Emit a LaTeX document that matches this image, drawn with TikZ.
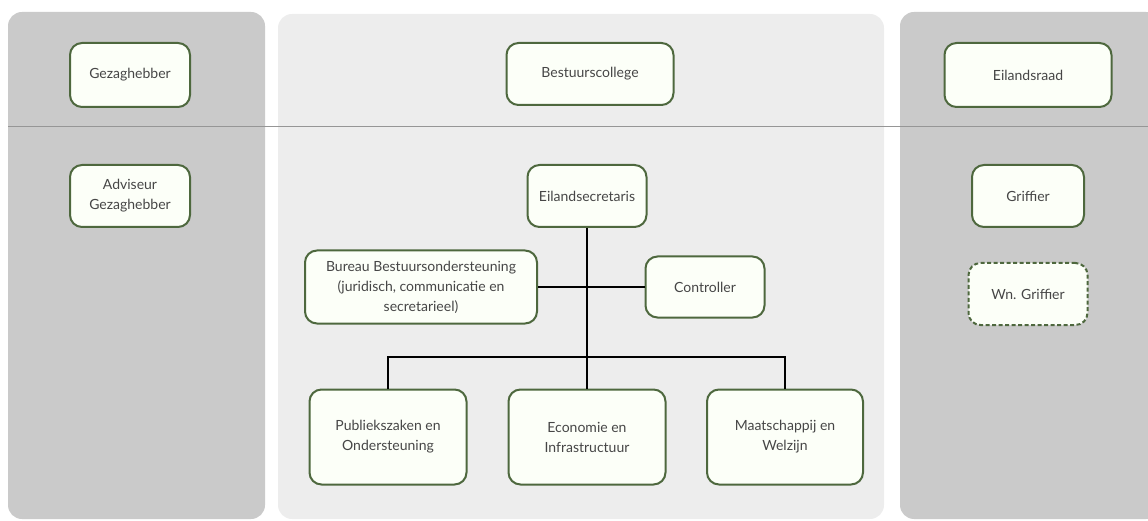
\documentclass[tikz,border=0pt]{standalone}
\usepackage{fontspec}
\setmainfont{Lato}
\definecolor{PanelColor}{RGB}{202,202,202}
\definecolor{CenterColor}{RGB}{237,237,237}
\definecolor{RuleColor}{RGB}{150,150,150}
\definecolor{BorderColor}{RGB}{78,104,62}
\definecolor{BoxColor}{RGB}{252,255,248}
\definecolor{TextColor}{RGB}{70,70,70}
\usepackage{tikz}
\usetikzlibrary{positioning, calc}
\tikzstyle{panel} = [rounded corners=14pt]
\tikzstyle{unit} = [draw=BorderColor, line width=2pt, fill=BoxColor, rounded corners=12pt, align=center, text=TextColor, font=\fontsize{14}{20}\selectfont, inner sep=2pt]
\tikzstyle{vacant} = [unit, dashed, dash pattern=on 4pt off 2.5pt]
\tikzstyle{link} = [line width=2.4pt, black]

\begin{document}
\begin{tikzpicture}[x=1pt, y=-1pt]
            \useasboundingbox (0,0) rectangle (1148,521);
            % Panels
            \fill[panel, PanelColor] (8,12) rectangle (265,519);
            \fill[panel, CenterColor] (278,14) rectangle (884,519);
            \fill[panel, PanelColor] (900,12) rectangle (1160,519);
            \draw[RuleColor, line width=1pt] (8,127) -- (1148,127);

            % Left column
            \node[unit, minimum width=120pt, minimum height=64pt] (gez) at (130,75) {Gezaghebber};
            \node[unit, minimum width=120pt, minimum height=62pt] (adv) at (130,196) {Adviseur\\Gezaghebber};

            % Right column
            \node[unit, minimum width=167pt, minimum height=64pt] (raad) at (1028,75) {Eilandsraad};
            \node[unit, minimum width=112pt, minimum height=62pt] (grif) at (1028,196) {Griffier};
            \node[vacant, minimum width=119pt, minimum height=62pt] (wngrif) at (1028,294) {Wn. Griffier};

            % Center column
            \node[unit, minimum width=167pt, minimum height=62pt] (college) at (590,74) {Bestuurscollege};
            \node[unit, minimum width=119pt, minimum height=62pt] (secr) at (587,196) {Eilandsecretaris};
            \node[unit, minimum width=232pt, minimum height=73pt] (bureau) at (421,287) {Bureau Bestuursondersteuning\\(juridisch, communicatie en\\secretarieel)};
            \node[unit, minimum width=119pt, minimum height=61pt] (contr) at (705,287) {Controller};
            \node[unit, minimum width=157pt, minimum height=95pt] (pub) at (388,437) {Publiekszaken en\\Ondersteuning};
            \node[unit, minimum width=157pt, minimum height=95pt] (eco) at (587,437) {Economie en\\Infrastructuur};
            \node[unit, minimum width=156pt, minimum height=95pt] (maat) at (785,437) {Maatschappij en\\Welzijn};
            \coordinate (bar) at (587,357);

            % Connectors
            \draw[link] (secr) -- (eco);
            \draw[link] (bureau) -- (contr);
            \draw[link] (pub.north) |- (bar) -| (maat.north);
        \end{tikzpicture}
\end{document}
